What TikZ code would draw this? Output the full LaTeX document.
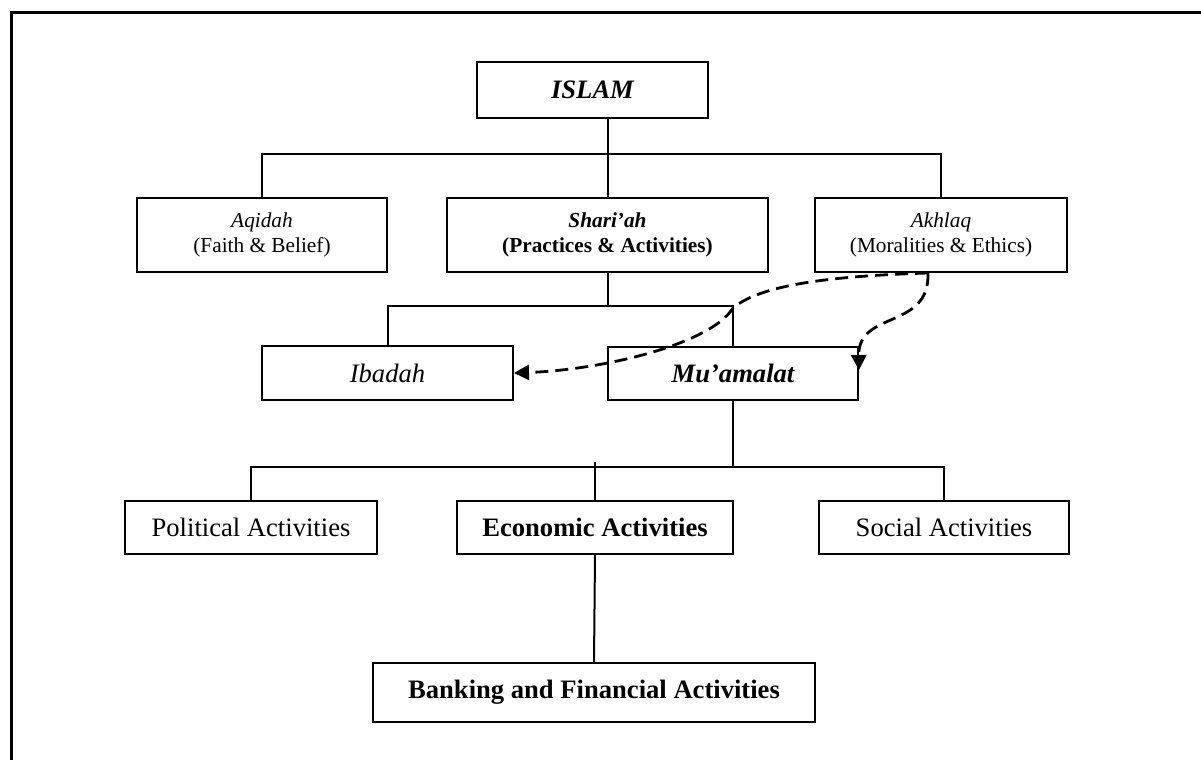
\documentclass[tikz,border=0pt]{standalone}
\usepackage{fontspec}
\setmainfont{Liberation Serif}
\usetikzlibrary{arrows.meta,calc}
\begin{document}
\begin{tikzpicture}[x=1bp,y=-1bp,
  box/.style={draw=black,line width=2bp,inner sep=0pt,align=center,
    font=\fontsize{26.6bp}{31bp}\selectfont},
  smallbox/.style={box,font=\fontsize{21.3bp}{25bp}\selectfont},
  conn/.style={line width=2bp},
  dashconn/.style={line width=2.8bp,dash pattern=on 13bp off 7bp,
    -{Triangle[length=15bp,width=15bp]}}]
\useasboundingbox (0,0) rectangle (1201,760);
% frame (top and left edges)
\draw[line width=3bp] (11,760) -- (11,13) -- (1201,13);
% nodes
\node[box,minimum width=231bp,minimum height=56bp] (islam) at (592.5,90) {\bfseries\itshape ISLAM};
\node[smallbox,minimum width=250bp,minimum height=74bp] (aq) at (262,235) {\itshape Aqidah\\(Faith \& Belief)};
\node[smallbox,minimum width=321bp,minimum height=74bp] (sh) at (607.5,235) {\bfseries\itshape Shari’ah\\\bfseries(Practices \& Activities)};
\node[smallbox,minimum width=252bp,minimum height=74bp] (ak) at (941,235) {\itshape Akhlaq\\(Moralities \& Ethics)};
\node[box,minimum width=251bp,minimum height=54bp] (ib) at (387.5,373) {\itshape Ibadah};
\node[box,minimum width=250bp,minimum height=53bp] (mu) at (733,373) {\bfseries\itshape Mu’amalat};
\node[box,minimum width=252bp,minimum height=53bp] (po) at (251,527.5) {Political Activities};
\node[box,minimum width=276bp,minimum height=53bp] (ec) at (595,527.5) {\bfseries Economic Activities};
\node[box,minimum width=250bp,minimum height=53bp] (so) at (944,527.5) {Social Activities};
\node[box,minimum width=442bp,minimum height=59bp] (ba) at (594,692.5) {\bfseries Banking and Financial Activities};
% bus coordinates
\coordinate (b1) at (0,154);
\coordinate (b2) at (0,306);
\coordinate (b3) at (0,467);
% connectors
\draw[conn] (sh.north) -- (sh.north |- islam.south);
\draw[conn] (aq.north) -- (aq.north |- b1) -- (ak.north |- b1) -- (ak.north);
\draw[conn] (sh.south) -- (sh.south |- b2);
\draw[conn] (ib.north) -- (ib.north |- b2) -- (mu.north |- b2) -- (mu.north);
\draw[conn] (mu.south) -- (mu.south |- b3);
\draw[conn] (po.north) -- (po.north |- b3) -- (so.north |- b3) -- (so.north);
\draw[conn] (ec.north) -- ([yshift=5bp]ec.north |- b3);
\draw[conn] (ec.south) -- (ba.north);
% dashed arrows from Akhlaq
\coordinate (akout) at ([xshift=-13bp]ak.south);
\coordinate (bend) at (733,308);
\coordinate (muin) at ([yshift=3bp]mu.east);
\draw[dashconn] (akout) .. controls (830,276) and (760,285) .. (bend)
  .. controls (710,345) and (600,370) .. (ib.east);
\draw[dashconn] (akout) .. controls (930,330) and (858,310) .. (muin);
\end{tikzpicture}
\end{document}
